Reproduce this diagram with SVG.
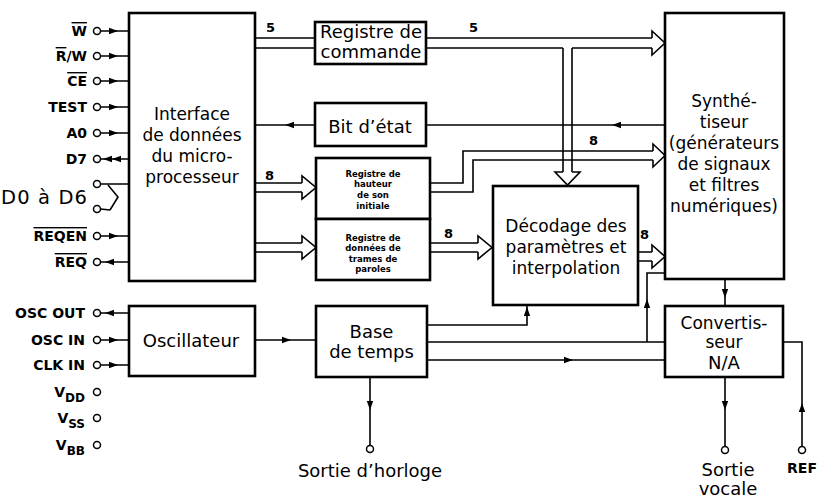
<svg xmlns="http://www.w3.org/2000/svg" xmlns:xlink="http://www.w3.org/1999/xlink" width="819" height="498" viewBox="0 0 819 498">
<style>
.box{fill:#fff;stroke:#000;stroke-width:2.6}
.ln{fill:none;stroke:#000;stroke-width:1.6}
.bus{fill:#fff;stroke:#000;stroke-width:1.6;stroke-linejoin:miter}
.pin{fill:#fff;stroke:#000;stroke-width:1.5}
.t{font-family:"DejaVu Sans",sans-serif;font-size:18px;fill:#000;text-anchor:middle}
.t17{font-family:"DejaVu Sans",sans-serif;font-size:17px;fill:#000;text-anchor:middle}
.s{font-family:"DejaVu Sans",sans-serif;font-size:8.5px;font-weight:bold;fill:#000;text-anchor:middle}
.p{font-family:"DejaVu Sans",sans-serif;font-size:14px;font-weight:bold;fill:#000;text-anchor:end}
.n{font-family:"DejaVu Sans",sans-serif;font-size:13px;font-weight:bold;fill:#000}
.ov{text-decoration:overline}
</style>
<defs>
<path id="ah" d="M0,0 L-9,-3.2 L-9,3.2 Z" fill="#000"/>
</defs>
<rect width="819" height="498" fill="#fff"/>

<g id="connectors">
<path class="ln" d="M100.5,31H129M100.5,56H129M100.5,81H129M100.5,107H129M100.5,133H129M100.5,159H129M100.5,184H129M100.5,236H129M100.5,262H129M100.5,313H129M100.5,340H129M100.5,365H129"/>
<path class="ln" d="M100.5,209L110,210M108,185L118,197L110,210"/>
<use xlink:href="#ah" transform="translate(118,31)"/>
<use xlink:href="#ah" transform="translate(118,56)"/>
<use xlink:href="#ah" transform="translate(118,81)"/>
<use xlink:href="#ah" transform="translate(118,107)"/>
<use xlink:href="#ah" transform="translate(118,133)"/>
<use xlink:href="#ah" transform="translate(103,159) rotate(180)"/>
<use xlink:href="#ah" transform="translate(112,159) rotate(180)"/>
<use xlink:href="#ah" transform="translate(118,236)"/>
<use xlink:href="#ah" transform="translate(105,262) rotate(180)"/>
<use xlink:href="#ah" transform="translate(105,313) rotate(180)"/>
<use xlink:href="#ah" transform="translate(118,340)"/>
<use xlink:href="#ah" transform="translate(118,365)"/>

<path class="ln" d="M255,38H315M255,48H315M426,38H652M426,48H563M572,48H652M563,48V172M572,48V172"/>
<polyline class="bus" points="652,38 652,31 665,43 652,55 652,48"/>
<polyline class="bus" points="563,172 555,172 567.5,185 580,172 572,172"/>

<path class="ln" d="M665,125H426M315,125H255"/>
<use xlink:href="#ah" transform="translate(612,125) rotate(180)"/>
<use xlink:href="#ah" transform="translate(285,125) rotate(180)"/>

<path class="ln" d="M255,183H302M255,192H302M255,243H302M255,252H302"/>
<polyline class="bus" points="302,183 302,176 316,187.5 302,199 302,192"/>
<polyline class="bus" points="302,243 302,236 316,247.5 302,259 302,252"/>

<path class="ln" d="M431,183H463V151H653M431,192H473V160H653"/>
<polyline class="bus" points="653,151 653,144 665,155.5 653,167 653,160"/>

<path class="ln" d="M431,243H478M431,252H478"/>
<polyline class="bus" points="478,243 478,236 492,247.5 478,259 478,252"/>

<path class="ln" d="M638,252H652M638,261H652"/>
<polyline class="bus" points="652,252 652,245 665,256.5 652,268 652,261"/>

<path class="ln" d="M255,340H316"/>
<use xlink:href="#ah" transform="translate(291,340)"/>

<path class="ln" d="M427,325H527V305M427,342H665M647,342V273H665M427,360H665M370,377V445.5"/>
<use xlink:href="#ah" transform="translate(527,307) rotate(-90)"/>
<use xlink:href="#ah" transform="translate(647,299) rotate(-90)"/>
<use xlink:href="#ah" transform="translate(573,360)"/>
<use xlink:href="#ah" transform="translate(370,410) rotate(90)"/>

<path class="ln" d="M725,279V306M725,377V446.5M783,342H802V446.5"/>
<use xlink:href="#ah" transform="translate(725,298) rotate(90)"/>
<use xlink:href="#ah" transform="translate(725,410) rotate(90)"/>
<use xlink:href="#ah" transform="translate(802,403) rotate(-90)"/>

<text class="n" x="266" y="32">5</text>
<text class="n" x="469" y="32">5</text>
<text class="n" x="265" y="180">8</text>
<text class="n" x="444" y="238">8</text>
<text class="n" x="589" y="145">8</text>
<text class="n" x="640" y="239">8</text>
</g>

<g id="pins">
<circle class="pin" cx="97" cy="31" r="3.5"/>
<circle class="pin" cx="97" cy="56" r="3.5"/>
<circle class="pin" cx="97" cy="81" r="3.5"/>
<circle class="pin" cx="97" cy="107" r="3.5"/>
<circle class="pin" cx="97" cy="133" r="3.5"/>
<circle class="pin" cx="97" cy="159" r="3.5"/>
<circle class="pin" cx="97" cy="184" r="3.5"/>
<circle class="pin" cx="97" cy="209" r="3.5"/>
<circle class="pin" cx="97" cy="236" r="3.5"/>
<circle class="pin" cx="97" cy="262" r="3.5"/>
<circle class="pin" cx="97" cy="313" r="3.5"/>
<circle class="pin" cx="97" cy="340" r="3.5"/>
<circle class="pin" cx="97" cy="365" r="3.5"/>
<circle class="pin" cx="97" cy="392" r="3.5"/>
<circle class="pin" cx="97" cy="418" r="3.5"/>
<circle class="pin" cx="97" cy="445" r="3.5"/>
<circle class="pin" cx="370" cy="449" r="3.5"/>
<circle class="pin" cx="725" cy="450" r="3.5"/>
<circle class="pin" cx="802" cy="450" r="3.5"/>
<text class="p" x="87" y="36"><tspan class="ov">W</tspan></text>
<text class="p" x="87" y="61"><tspan class="ov">R</tspan>/W</text>
<text class="p" x="87" y="86"><tspan class="ov">CE</tspan></text>
<text class="p" x="87" y="112">TEST</text>
<text class="p" x="87" y="138">A0</text>
<text class="p" x="87" y="164">D7</text>
<text x="1" y="204" font-family="DejaVu Sans, sans-serif" font-size="19.5" textLength="86" lengthAdjust="spacing">D0 à D6</text>
<text class="p" x="87" y="241"><tspan class="ov">REQEN</tspan></text>
<text class="p" x="87" y="267"><tspan class="ov">REQ</tspan></text>
<text class="p" x="85" y="318">OSC OUT</text>
<text class="p" x="85" y="345">OSC IN</text>
<text class="p" x="85" y="370">CLK IN</text>
<text class="p" x="85" y="397">V<tspan font-size="12" dy="5">DD</tspan></text>
<text class="p" x="85" y="423">V<tspan font-size="12" dy="5">SS</tspan></text>
<text class="p" x="85" y="450">V<tspan font-size="12" dy="5">BB</tspan></text>
<text class="t" x="370" y="477">Sortie d’horloge</text>
<text class="t" x="728" y="476">Sortie</text>
<text class="t" x="728" y="495">vocale</text>
<text class="p" x="817" y="473">REF</text>
</g>

<g id="interface">
<rect class="box" x="129" y="13" width="126" height="268"/>
<text class="t17" x="192" y="120">Interface</text>
<text class="t17" x="192" y="141">de données</text>
<text class="t17" x="192" y="162">du micro-</text>
<text class="t17" x="192" y="183">processeur</text>
</g>

<g id="oscillateur">
<rect class="box" x="129" y="306" width="126" height="70"/>
<text class="t" x="191" y="347">Oscillateur</text>
</g>

<g id="registre-commande">
<rect class="box" x="315" y="22" width="111" height="42"/>
<text class="t" x="371" y="38">Registre de</text>
<text class="t" x="371" y="58">commande</text>
</g>

<g id="bit-etat">
<rect class="box" x="315" y="103" width="111" height="43"/>
<text class="t" x="370" y="133">Bit d’état</text>
</g>

<g id="registre-hauteur">
<rect class="box" x="316" y="158" width="114" height="61"/>
<text class="s" x="373" y="177">Registre de</text>
<text class="s" x="373" y="187">hauteur</text>
<text class="s" x="373" y="198">de son</text>
<text class="s" x="373" y="209">initiale</text>
</g>

<g id="registre-trames">
<rect class="box" x="316" y="219" width="114" height="61"/>
<text class="s" x="373" y="241">Registre de</text>
<text class="s" x="373" y="251">données de</text>
<text class="s" x="373" y="262">trames de</text>
<text class="s" x="373" y="272">paroles</text>
</g>

<g id="base-temps">
<rect class="box" x="316" y="306" width="111" height="71"/>
<text class="t" x="371.5" y="338">Base</text>
<text class="t" x="371.5" y="358">de temps</text>
</g>

<g id="decodage">
<rect class="box" x="493" y="186" width="145" height="119"/>
<text class="t17" x="566" y="232">Décodage des</text>
<text class="t17" x="566" y="253">paramètres et</text>
<text class="t17" x="566" y="274">interpolation</text>
</g>

<g id="synthetiseur">
<rect class="box" x="665" y="13" width="119" height="266"/>
<text class="t17" x="724" y="107">Synthé-</text>
<text class="t17" x="724" y="128">tiseur</text>
<text class="t17" x="724" y="149">(générateurs</text>
<text class="t17" x="724" y="170">de signaux</text>
<text class="t17" x="724" y="191">et filtres</text>
<text class="t17" x="724" y="212">numériques)</text>
</g>

<g id="convertisseur">
<rect class="box" x="665" y="306" width="118" height="71"/>
<text class="t17" x="724" y="329" font-size="16.5">Convertis-</text>
<text class="t17" x="724" y="348" font-size="16.5">seur</text>
<text class="t" x="724" y="369" font-size="21">N/A</text>
</g>
</svg>
